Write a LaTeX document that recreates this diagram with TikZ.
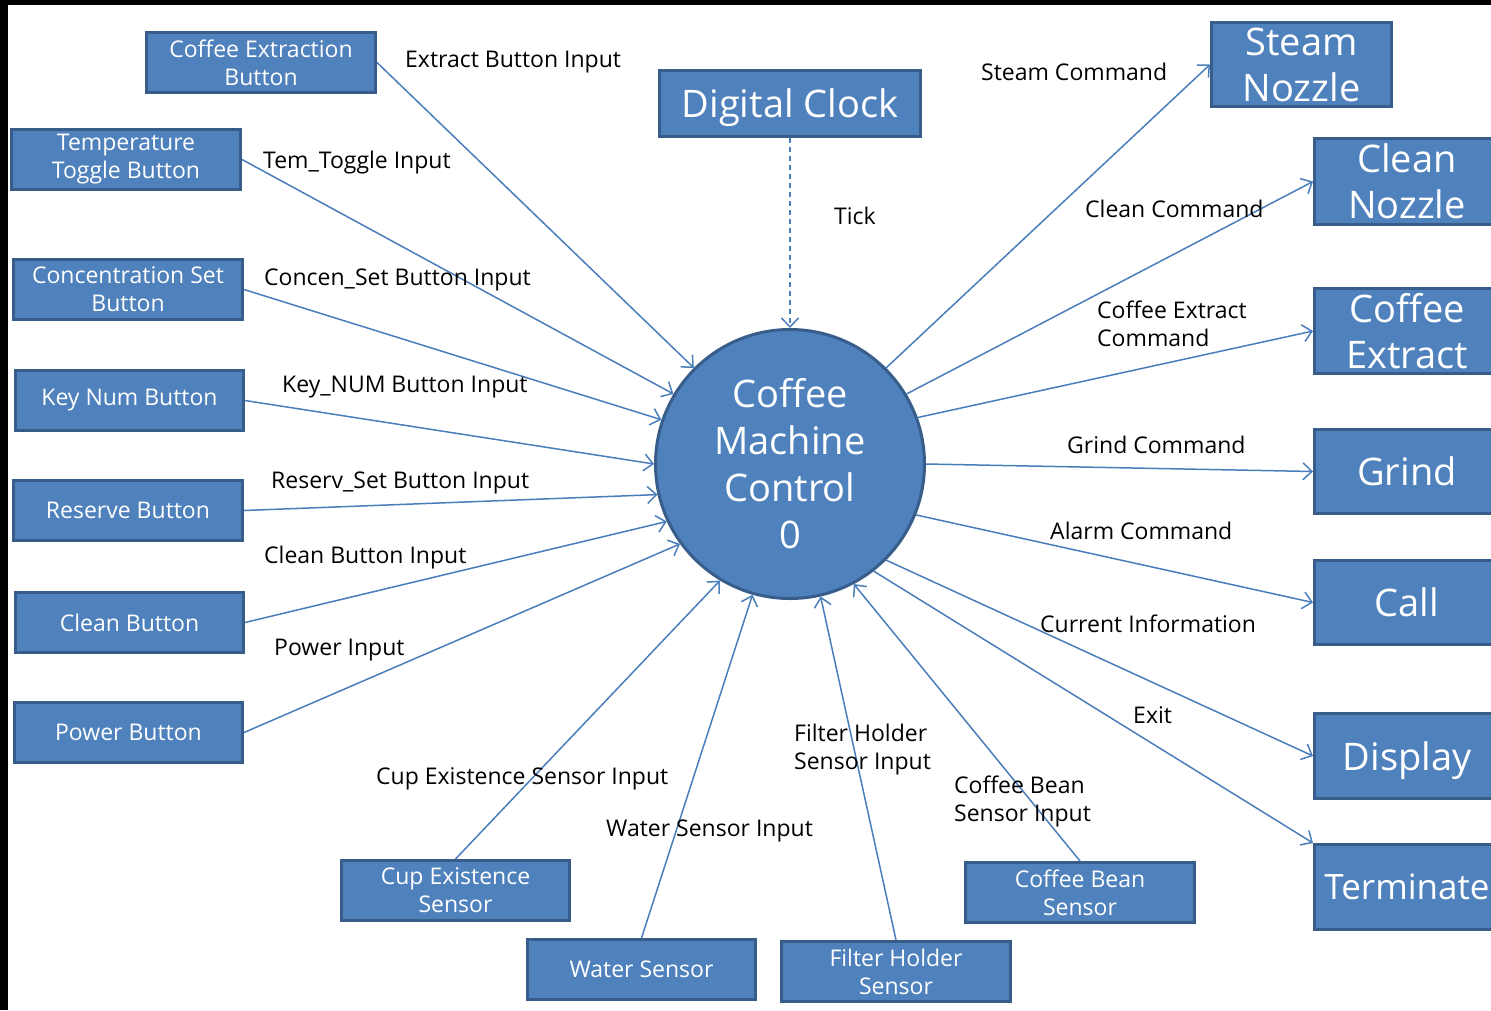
\documentclass[tikz,border=0pt]{standalone}
\usepackage{fontspec}
\setmainfont{Open Sans}
\usetikzlibrary{arrows.meta}
\definecolor{boxfill}{HTML}{4F81BD}
\definecolor{boxdraw}{HTML}{385D8A}
\definecolor{linecol}{HTML}{4A7EBB}
\begin{document}
\begin{tikzpicture}[x=1pt,y=-1pt,
  box/.style={draw=boxdraw, fill=boxfill, line width=3pt, text=white, align=center,
    font=\fontsize{23}{28}\selectfont, inner sep=0pt},
  bigbox/.style={box, font=\fontsize{38}{46}\selectfont},
  lbl/.style={anchor=west, align=left, font=\fontsize{23}{28}\selectfont, inner sep=0pt},
  conn/.style={draw=linecol, line width=1.5pt, -{Straight Barb[length=9pt,width=17pt,line width=1.5pt]}}]
\useasboundingbox (0,0) rectangle (1491,1010);
\clip (0,0) rectangle (1491,1010);
\fill[white] (0,0) rectangle (1491,1010);
\fill[black] (0,0) rectangle (1491,5);
\fill[black] (0,0) rectangle (8,1010);

% input boxes (left)
\node[box, minimum width=229pt, minimum height=60pt] (cexb) at (261,62.5) {Coffee Extraction\\Button};
\node[box, minimum width=229pt, minimum height=60pt] (temp) at (126,159.5) {Temperature\\Toggle Button};
\node[box, minimum width=229pt, minimum height=60pt] (conc) at (128,289.5) {Concentration Set\\Button};
\node[box, minimum width=228pt, minimum height=60pt] (keyn) at (129.5,400.5) {Key Num Button};
\node[box, minimum width=229pt, minimum height=60pt] (resv) at (128,510.5) {Reserve Button};
\node[box, minimum width=228pt, minimum height=60pt] (clnb) at (129.5,622.5) {Clean Button};
\node[box, minimum width=228pt, minimum height=60pt] (powb) at (128.5,732.5) {Power Button};

% sensors (bottom)
\node[box, minimum width=228pt, minimum height=60pt] (cups) at (455.5,890.5) {Cup Existence\\Sensor};
\node[box, minimum width=228pt, minimum height=60pt] (wats) at (641.5,969.5) {Water Sensor};
\node[box, minimum width=229pt, minimum height=60pt] (fils) at (896,971.5) {Filter Holder\\Sensor};
\node[box, minimum width=229pt, minimum height=60pt] (bean) at (1080,892.5) {Coffee Bean\\Sensor};

% clock
\node[bigbox, text depth=0pt, minimum width=261pt, minimum height=66pt] (clk) at (790,103.5) {Digital Clock};

% centre
\node[circle, draw=boxdraw, fill=boxfill, line width=3pt, text=white, align=center,
  font=\fontsize{38}{47}\selectfont, minimum size=269pt, inner sep=0pt] (ctl) at (790,464)
  {Coffee\\Machine\\Control\\0};

% outputs (right)
\node[bigbox, minimum width=180pt, minimum height=84pt] (stm) at (1301.5,64.5) {Steam\\Nozzle};
\node[bigbox, minimum width=185pt, minimum height=86pt] (cln) at (1407,181.5) {Clean\\Nozzle};
\node[bigbox, minimum width=185pt, minimum height=85pt] (cex) at (1407,331) {Coffee\\Extract};
\node[bigbox, minimum width=185pt, minimum height=84pt] (grd) at (1407,471.5) {Grind};
\node[bigbox, minimum width=185pt, minimum height=84pt] (cal) at (1407,602.5) {Call};
\node[bigbox, text depth=0pt, minimum width=185pt, minimum height=85pt] (dsp) at (1407,756) {Display};
\node[bigbox, font=\fontsize{35}{46}\selectfont, minimum width=185pt, minimum height=85pt] (trm) at (1407,887) {Terminate};

% input connectors
\draw[conn] (cexb.east) -- (ctl.135);
\draw[conn] (temp.east) -- (ctl.149);
\draw[conn] (conc.east) -- (ctl.161);
\draw[conn] (keyn.east) -- (ctl.180);
\draw[conn] (resv.east) -- (ctl.193);
\draw[conn] (clnb.east) -- (ctl.205);
\draw[conn] (powb.east) -- (ctl.216);
\draw[conn] (cups.north) -- (ctl.239);
\draw[conn] (wats.north) -- (ctl.254);
\draw[conn] (fils.north) -- (ctl.283);
\draw[conn] (bean.north) -- (ctl.298);
\draw[conn, dash pattern=on 5pt off 4pt] (clk.south) -- (ctl.north);

% output connectors
\draw[conn] (ctl.45) -- (stm.west);
\draw[conn] (ctl.31) -- (cln.west);
\draw[conn] (ctl.20.6) -- (cex.west);
\draw[conn] (ctl.east) -- (grd.west);
\draw[conn] (ctl.-22) -- (cal.west);
\draw[conn] (ctl.-45) -- (dsp.west);
\draw[conn] (ctl.-52.7) -- (trm.north west);

% labels
\node[lbl] (l1) at (405,62) {Extract Button Input};
\node[lbl] (l2) at (263,163) {Tem\_Toggle Input};
\node[lbl] (l3) at (264,280) {Concen\_Set Button Input};
\node[lbl] (l4) at (282,387) {Key\_NUM Button Input};
\node[lbl] (l5) at (271,483) {Reserv\_Set Button Input};
\node[lbl] (l6) at (264,558) {Clean Button Input};
\node[lbl] (l7) at (274,650) {Power Input};
\node[lbl] (l8) at (376,779) {Cup Existence Sensor Input};
\node[lbl] (l9) at (606,831) {Water Sensor Input};
\node[lbl] (l10) at (794,750) {Filter Holder\\Sensor Input};
\node[lbl] (l11) at (954,801) {Coffee Bean\\Sensor Input};
\node[lbl] (l12) at (834,216) {Tick};
\node[lbl] (l13) at (981,72) {Steam Command};
\node[lbl] (l14) at (1085,209) {Clean Command};
\node[lbl] (l15) at (1097,324) {Coffee Extract\\Command};
\node[lbl] (l16) at (1067,445) {Grind Command};
\node[lbl] (l17) at (1050,531) {Alarm Command};
\node[lbl] (l18) at (1040,624) {Current Information};
\node[lbl] (l19) at (1133,715) {Exit};
\end{tikzpicture}
\end{document}
